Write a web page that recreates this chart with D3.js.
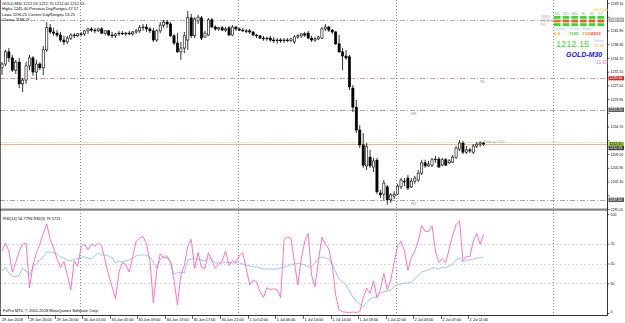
<!DOCTYPE html>
<html>
<head>
<meta charset="utf-8">
<script src="https://cdnjs.cloudflare.com/ajax/libs/d3/7.8.5/d3.min.js"></script>
<style>
  body { margin: 0; background: #fff; }
  svg { display: block; }
  text { font-family: "Liberation Sans", Arial, sans-serif; }
</style>
</head>
<body>
<script>
// GOLD M30 bars: [open, high, low, close]
var ohlc = [
 [1232.1,1233.6,1230.2,1233.1],[1233.1,1236.8,1232.6,1236.3],[1236.3,1237.3,1233.6,1234.7],[1234.7,1235.5,1231.0,1231.5],
 [1231.5,1234.2,1230.5,1233.6],[1233.6,1234.7,1226.8,1227.9],[1227.9,1229.4,1225.8,1228.9],[1228.9,1233.6,1227.9,1232.6],
 [1232.6,1235.5,1231.5,1234.7],[1234.7,1235.2,1230.0,1231.0],[1231.0,1234.2,1228.9,1233.1],[1233.1,1233.6,1231.5,1232.1],
 [1232.1,1237.8,1230.2,1236.8],[1236.8,1244.1,1236.3,1242.6],[1242.6,1243.6,1241.0,1241.5],[1241.5,1242.6,1240.5,1241.2],
 [1241.2,1242.0,1240.2,1240.7],[1240.7,1241.5,1238.9,1239.4],[1239.4,1240.5,1238.1,1238.9],[1238.9,1240.5,1238.4,1239.9],
 [1239.9,1241.2,1239.4,1240.7],[1240.7,1241.2,1239.9,1240.5],[1240.5,1241.2,1240.2,1241.0],[1241.0,1241.5,1240.5,1241.0],
 [1241.0,1242.0,1240.5,1241.8],[1241.8,1242.6,1241.0,1242.3],[1242.3,1242.8,1241.5,1242.0],[1242.0,1242.6,1241.2,1241.8],
 [1241.8,1242.6,1241.5,1242.3],[1242.3,1242.8,1241.0,1241.2],[1241.2,1242.0,1240.7,1241.8],[1241.8,1242.0,1240.5,1240.7],
 [1240.7,1241.5,1239.9,1240.5],[1240.5,1241.2,1239.9,1241.0],[1241.0,1241.8,1240.5,1241.2],[1241.2,1241.8,1240.7,1241.0],
 [1241.0,1241.5,1240.5,1241.2],[1241.2,1241.8,1240.7,1241.0],[1241.0,1241.8,1240.5,1241.5],[1241.5,1242.3,1241.0,1241.8],
 [1241.8,1243.3,1241.2,1242.6],[1242.6,1243.6,1241.8,1242.8],[1242.8,1243.6,1241.5,1242.3],[1242.3,1242.8,1241.2,1241.8],
 [1241.8,1242.6,1238.9,1239.4],[1239.4,1242.3,1238.9,1241.8],[1241.8,1244.1,1241.2,1243.3],[1243.3,1244.7,1242.6,1244.1],
 [1244.1,1244.7,1242.6,1243.6],[1243.6,1244.1,1240.2,1240.5],[1240.5,1241.0,1238.1,1238.6],[1238.6,1241.2,1236.0,1236.3],
 [1236.3,1238.9,1234.2,1237.3],[1237.3,1241.5,1236.0,1240.5],[1239.4,1247.0,1236.8,1245.2],[1245.2,1246.2,1239.9,1240.5],
 [1240.5,1245.4,1239.9,1244.9],[1244.4,1246.0,1243.6,1245.4],[1245.2,1245.7,1239.4,1239.9],[1240.2,1241.8,1239.9,1241.2],
 [1240.7,1245.2,1240.5,1244.7],[1244.7,1245.2,1242.6,1242.8],[1242.8,1243.3,1241.8,1242.3],[1242.3,1242.8,1241.8,1242.6],
 [1242.6,1243.1,1241.8,1242.0],[1242.0,1242.8,1241.5,1242.3],[1242.6,1243.1,1240.5,1240.7],[1240.7,1243.3,1240.5,1242.8],
 [1242.8,1243.1,1241.8,1242.3],[1242.3,1242.6,1241.8,1242.0],[1242.0,1242.6,1241.5,1241.8],[1241.8,1242.3,1241.2,1241.8],
 [1241.8,1242.3,1241.0,1241.5],[1241.5,1241.8,1240.5,1240.7],[1240.7,1241.0,1239.9,1240.5],[1240.5,1240.7,1239.7,1239.9],
 [1239.9,1240.5,1239.2,1239.7],[1239.7,1240.2,1239.2,1239.9],[1239.9,1240.5,1238.9,1239.4],[1239.4,1240.2,1238.6,1239.2],
 [1239.2,1239.9,1238.4,1239.4],[1239.4,1239.9,1238.6,1239.2],[1239.2,1239.9,1238.6,1239.4],[1239.4,1239.9,1238.9,1239.2],
 [1239.2,1239.9,1238.9,1239.7],[1238.9,1240.7,1238.4,1240.2],[1240.2,1241.0,1239.7,1240.5],[1240.5,1241.2,1239.9,1241.0],
 [1241.0,1241.5,1240.2,1240.7],[1241.2,1241.8,1239.7,1239.9],[1239.9,1240.5,1238.9,1239.4],[1239.4,1240.2,1238.9,1239.7],
 [1239.7,1240.5,1239.4,1240.2],[1239.9,1242.8,1239.7,1242.3],[1242.3,1243.6,1241.8,1242.8],[1242.8,1243.1,1241.5,1242.0],
 [1242.0,1242.3,1241.0,1241.5],[1241.5,1241.8,1238.1,1238.4],[1238.4,1240.7,1236.0,1236.3],[1236.3,1237.3,1231.5,1235.2],
 [1235.2,1236.8,1234.2,1234.7],[1235.0,1235.5,1226.3,1227.1],[1226.8,1227.6,1220.5,1221.8],[1221.8,1223.7,1215.0,1215.8],
 [1215.8,1217.1,1211.1,1211.9],[1211.9,1215.0,1205.9,1206.6],[1206.4,1212.4,1205.3,1211.4],[1208.7,1210.6,1205.9,1206.4],
 [1206.1,1208.5,1204.8,1207.7],[1207.9,1208.5,1199.0,1199.6],[1199.3,1200.1,1198.0,1198.8],[1199.0,1202.7,1197.5,1201.9],
 [1200.9,1201.4,1196.2,1197.5],[1197.5,1199.3,1196.7,1198.8],[1198.5,1199.8,1197.7,1199.0],[1199.0,1201.7,1198.8,1201.1],
 [1200.9,1203.2,1200.3,1202.7],[1202.2,1203.2,1201.1,1202.4],[1203.2,1204.0,1200.1,1200.6],[1200.9,1203.2,1200.6,1202.4],
 [1202.4,1203.8,1201.7,1203.2],[1202.7,1205.3,1202.2,1204.5],[1204.5,1208.0,1204.0,1207.2],[1207.2,1208.0,1205.9,1206.4],
 [1206.4,1207.7,1206.1,1206.9],[1206.6,1208.5,1206.1,1208.0],[1208.0,1209.0,1207.2,1208.2],[1208.2,1208.7,1205.9,1206.1],
 [1206.6,1208.5,1206.4,1208.0],[1208.0,1208.5,1206.4,1206.6],[1207.2,1208.2,1206.9,1207.7],[1207.4,1209.3,1207.2,1208.7],
 [1208.7,1211.6,1208.2,1211.1],[1210.8,1213.2,1210.3,1212.4],[1212.4,1212.9,1209.5,1210.0],[1210.0,1211.6,1209.5,1210.6],
 [1210.6,1211.1,1209.8,1210.3],[1210.0,1212.1,1209.5,1211.6],[1211.6,1212.7,1211.1,1212.1],[1212.1,1212.9,1211.4,1212.4],
 [1212.4,1212.7,1211.6,1212.15]
];

// RSI(3) pink, RSI(14) blue
var rsiFast = [62.7,70.6,62.7,41.2,51,62.7,69.6,70.6,25.5,48,60.8,69.6,80.4,90.2,74.5,65.7,54.9,46.1,52,38.2,
 23.5,52.9,47.1,66.7,69.6,63.7,69.6,67.6,70.6,67.6,52.9,38.2,26.5,14.5,41.2,51,49,41.2,56.9,72.5,
 75.5,77.5,69.6,52.9,10.2,43.1,59.8,55.9,55.9,51,33.3,8.1,38.2,48,67.6,74.5,45.1,60.8,46.1,45.1,
 60.8,52.9,45.1,49,52.9,62.7,48,52.9,51,57.8,60.8,45.1,28.4,33.3,31.4,21.6,15.7,25.5,23.5,24.5,
 23.5,15.7,74.5,76.5,75.5,51,28.4,54.9,72.5,80.4,38.2,26.5,52.9,76.5,69.6,64.7,48,18.2,3.1,1.2,
 0.8,0.5,0.9,0.6,1.1,15.3,25.1,19.8,32.6,15.7,23.5,40.2,23.5,33.3,51,67.6,72.5,62.7,43.1,55.9,
 62.7,72.5,88.2,82.4,82.4,88.2,62.7,51,54.9,51,64.7,78.4,89.2,93.1,52.9,56.9,56.9,72.5,80.4,69.6,79.5721];
var rsiSlow = [42.4,46.5,40.4,37.4,36.4,38.4,45.5,42.4,38.4,46.5,49.5,53.5,56.6,61.6,61.6,60.6,59.6,56.6,55.6,53.5,
 52.5,54.5,54.5,56.6,56.6,55.6,54.5,57.6,60.6,58.6,58.6,57.6,55.6,50.5,52.5,51.5,52.5,53.5,55.6,57.6,
 58.6,58.6,58.6,56.6,51.5,45.5,53.5,57.6,57.6,51.5,39.4,40.4,41.4,40.4,53.5,54.5,55.6,54.5,53.5,52.5,
 55.6,54.5,50.5,50.5,50.5,51.5,50.5,50.5,50.5,50.5,49.5,48.5,47.5,46.5,46.5,45.5,44.4,44.4,44.4,44.4,
 44.4,45.5,46.5,47.5,48.5,49.5,50.5,49.5,48.5,46.5,46.5,50.5,55.6,56.6,55.6,54.5,49.5,41.4,34.3,31.3,
 28.3,22.2,16.2,12.1,9.1,6.1,11.1,14.1,16.2,15.2,20.2,21.2,22.2,23.2,26.3,28.3,29.3,30.3,30.3,31.3,
 34.3,38.4,41.4,42.4,43.4,45.5,45.5,44.4,46.5,45.5,47.5,49.5,53.5,55.6,51.5,53.5,53.5,54.5,55.6,55.6,56.7796];

var priceTicks = [1195.10,1198.70,1202.30,1205.90,1209.50,1213.10,1216.70,1220.30,1223.90,1227.50,1231.10,1234.70,1238.30,1241.90,1245.50,1249.10];
var rsiTicks = [100,70,50,30,0];
var rsiLevels = [70,50,30];
var timeLabels = ["29 Jun 16:00","29 Jun 20:00","30 Jun 01:00","30 Jun 05:00","30 Jun 09:00","30 Jun 13:00","30 Jun 17:00","30 Jun 21:00",
 "1 Jul 02:00","1 Jul 06:00","1 Jul 10:00","1 Jul 14:00","1 Jul 18:00","1 Jul 22:00","2 Jul 03:00","2 Jul 07:00","2 Jul 11:00"];
var timeTickBars = [7.6,15.4,23.3,31.4,39.2,47.4,55.2,63.4,71.5,79.4,87.5,95.6,103.5,111.6,119.5,127.6,135.5];
var daySeparators = [22.7,68.6,114.5,160.2];
// horizontal lines on the price panel
var lineLevels = [1244.7,1229.4,1221.1,1197.5];
var lineColors = ["#a0a0a0","#e07878","#909090","#909090"];
var lineNames = ["","R1","M3","M2"];
var lineNameBars = [0,139,119,119];
var bid = 1212.15, ask = 1212.45;

var W = 625, H = 323, axisX = 607;

var svg = d3.select("body").append("svg").attr("width", W).attr("height", H);
svg.append("rect").attr("width", W).attr("height", H).attr("fill", "#fff");

var x = d3.scaleLinear().domain([0, 140]).range([2, 483.6]);
var y = d3.scaleLinear().domain([1195.10, 1249.10]).range([209, 3]);
var yr = d3.scaleLinear().domain([0, 100]).range([313, 214]);

// day separators
svg.selectAll(".sep").data(daySeparators).enter().append("line")
   .attr("x1", function(d) { return Math.round(x(d)) + 0.5; })
   .attr("x2", function(d) { return Math.round(x(d)) + 0.5; })
   .attr("y1", 0).attr("y2", 315)
   .attr("stroke", "#707070").attr("stroke-width", 0.8).attr("stroke-dasharray", "1,2");

// price level lines
svg.selectAll(".lvl").data(lineLevels).enter().append("line")
   .attr("x1", 0).attr("x2", axisX)
   .attr("y1", function(d) { return Math.round(y(d)) + 0.5; })
   .attr("y2", function(d) { return Math.round(y(d)) + 0.5; })
   .attr("stroke", function(d, i) { return lineColors[i]; })
   .attr("stroke-width", 0.8).attr("stroke-dasharray", "5,2,1,2");
svg.selectAll(".lvlname").data(lineLevels).enter().append("text")
   .attr("x", function(d, i) { return x(lineNameBars[i]); })
   .attr("y", function(d) { return y(d) + 5; })
   .attr("font-size", 3.6).attr("fill", "#909090")
   .text(function(d, i) { return lineNames[i]; });

// bid line
svg.append("line").attr("x1", 0).attr("x2", axisX)
   .attr("y1", Math.round(y(bid)) - 1.5).attr("y2", Math.round(y(bid)) - 1.5)
   .attr("stroke", "#c8e0a0").attr("stroke-width", 0.8).attr("stroke-dasharray", "2,1");
svg.append("line").attr("x1", 0).attr("x2", axisX)
   .attr("y1", Math.round(y(bid)) + 0.5).attr("y2", Math.round(y(bid)) + 0.5)
   .attr("stroke", "#f0a070").attr("stroke-width", 0.8);
svg.append("text").attr("x", x(139) + 4).attr("y", y(bid) - 1)
   .attr("font-size", 3.4).attr("fill", "#999").text("Pivot ▲ 1212");

// candles
var bw = 2.2;
var candle = svg.append("g").selectAll("g").data(ohlc).enter().append("g");
candle.append("line")
   .attr("x1", function(d, i) { return x(i); })
   .attr("x2", function(d, i) { return x(i); })
   .attr("y1", function(d) { return y(d[1]); })
   .attr("y2", function(d) { return y(d[2]); })
   .attr("stroke", "#000").attr("stroke-width", 0.8);
candle.append("rect")
   .attr("x", function(d, i) { return x(i) - bw / 2; })
   .attr("y", function(d) { return y(Math.max(d[0], d[3])); })
   .attr("width", bw)
   .attr("height", function(d) { return Math.max(0.6, Math.abs(y(d[0]) - y(d[3]))); })
   .attr("fill", function(d) { return d[3] > d[0] ? "#fff" : "#000"; })
   .attr("stroke", "#000").attr("stroke-width", 0.6);

// panel separator
svg.append("rect").attr("x", 0).attr("y", 208.5).attr("width", axisX).attr("height", 2.2).attr("fill", "#858585");

// RSI levels
svg.selectAll(".rl").data(rsiLevels).enter().append("line")
   .attr("x1", 0).attr("x2", axisX)
   .attr("y1", function(d) { return Math.round(yr(d)) + 0.5; })
   .attr("y2", function(d) { return Math.round(yr(d)) + 0.5; })
   .attr("stroke", "#c8c8c8").attr("stroke-width", 0.7).attr("stroke-dasharray", "2,2");

var line = d3.line().x(function(d, i) { return x(i); }).y(function(d) { return yr(d); });
svg.append("path").datum(rsiSlow).attr("d", line)
   .attr("fill", "none").attr("stroke", "#87c3fa").attr("stroke-width", 0.9);
svg.append("path").datum(rsiFast).attr("d", line)
   .attr("fill", "none").attr("stroke", "#ff62c0").attr("stroke-width", 0.9);

// axes frame
svg.append("line").attr("x1", axisX + 0.5).attr("x2", axisX + 0.5).attr("y1", 0).attr("y2", 315.5)
   .attr("stroke", "#000").attr("stroke-width", 0.8);
svg.append("line").attr("x1", 0).attr("x2", axisX + 0.5).attr("y1", 315.5).attr("y2", 315.5)
   .attr("stroke", "#000").attr("stroke-width", 0.8);
svg.append("line").attr("x1", 0.5).attr("x2", 0.5).attr("y1", 0).attr("y2", 315.5)
   .attr("stroke", "#000").attr("stroke-width", 0.6);

// price boxes on axis
var boxes = [
  { v: lineLevels[0], fill: "#a8a8a8", color: "#fff", dy: 0 },
  { v: lineLevels[1], fill: "#d03030", color: "#fff", dy: 0 },
  { v: lineLevels[2], fill: "#5a5a5a", color: "#fff", dy: 0 },
  { v: bid, fill: "#9acd32", color: "#000", dy: 0 },
  { v: ask, fill: "#404040", color: "#fff", dy: 5.2 },
  { v: lineLevels[3], fill: "#5a5a5a", color: "#fff", dy: 0 }
];

// price axis, labels hidden where a price box covers them
var yAxis = d3.axisRight(y).tickValues(priceTicks).tickSize(2).tickFormat(d3.format(".2f"));
var ga = svg.append("g").attr("transform", "translate(" + (axisX + 0.5) + ",0)").call(yAxis);
ga.select(".domain").remove();
ga.selectAll("text").attr("font-size", 3.5).attr("x", 3).attr("fill", "#000")
  .style("display", function(d) {
    var ty = y(d);
    return boxes.some(function(b) { return Math.abs(y(b.v) + b.dy - ty) < 4.6; }) ? "none" : null;
  });
ga.selectAll("line").attr("stroke", "#000").attr("stroke-width", 0.6);

// rsi axis
var rAxis = d3.axisRight(yr).tickValues(rsiTicks).tickSize(2);
var gr = svg.append("g").attr("transform", "translate(" + (axisX + 0.5) + ",0)").call(rAxis);
gr.select(".domain").remove();
gr.selectAll("text").attr("font-size", 3.5).attr("x", 3).attr("fill", "#000")
  .attr("dy", function(d) { return d === 0 ? "-0.1em" : "0.32em"; });
gr.selectAll("line").attr("stroke", "#000").attr("stroke-width", 0.6);

var bx = svg.selectAll(".box").data(boxes).enter().append("g");
bx.append("rect").attr("x", axisX + 1.5).attr("width", 15.5).attr("height", 4.4)
  .attr("y", function(d) { return y(d.v) - 2.2 + d.dy; })
  .attr("fill", function(d) { return d.fill; });
bx.append("text").attr("x", axisX + 2.5)
  .attr("y", function(d) { return y(d.v) + 1.3 + d.dy; })
  .attr("font-size", 3.5).attr("fill", function(d) { return d.color; })
  .text(function(d) { return d3.format(".2f")(d.v); });

// time axis
svg.selectAll(".tt").data(timeTickBars).enter().append("line")
   .attr("x1", function(d) { return Math.round(x(d)) + 0.5; })
   .attr("x2", function(d) { return Math.round(x(d)) + 0.5; })
   .attr("y1", 315.5).attr("y2", 319)
   .attr("stroke", "#000").attr("stroke-width", 0.6);
svg.selectAll(".tl").data(timeTickBars).enter().append("text")
   .attr("x", function(d) { return x(d) + 1.5; })
   .attr("y", 321)
   .attr("font-size", 3.8).attr("fill", "#000")
   .text(function(d, i) { return timeLabels[i]; });
svg.append("text").attr("x", 2).attr("y", 321).attr("font-size", 3.8).text("29 Jun 2018");

// info text
var info = ["GOLD,M30  1212.53 1212.70 1212.00 1212.15",
            "High= 1245.40  Previous DayRange= 47.57",
            "Low= 1196.25  Current DayRange= 13.25",
            "Close= 1198.27"];
svg.selectAll(".info").data(info).enter().append("text")
   .attr("x", 2).attr("y", function(d, i) { return 5 + i * 5.3; })
   .attr("font-size", 4).attr("fill", "#000").text(function(d) { return d; });
svg.append("text").attr("x", 3).attr("y", 220).attr("font-size", 4)
   .text("RSI(14) 56.7796  RSI(3) 79.5721");
svg.append("text").attr("x", 3).attr("y", 312).attr("font-size", 4)
   .text("FxPro MT4, © 2001-2018 MetaQuotes Software Corp.");

// trade info panel
var tfNames = ["M5","M15","M30","H1","H4","D1"];
var rowNames = ["TREND","SIGNAL","RSI"];
var rowColors = [
  ["#2ee02e","#2ee02e","#2ee02e","#2ee02e","#2ee02e","#2ee02e"],
  ["#ff6a30","#ff5030","#ff5030","#ff5030","#ff5030","#ff5030"],
  ["#2ee02e","#2ee02e","#2ee02e","#2ee02e","#2ee02e","#2ee02e"]
];
var px = d3.scaleBand().domain(tfNames).range([554, 604]).paddingInner(0.25);
svg.append("text").attr("x", 593).attr("y", 10.5).attr("font-size", 3.8).attr("fill", "#e8d000").text("InfoTrade");
svg.selectAll(".tf").data(tfNames).enter().append("text")
   .attr("x", function(d) { return px(d) + px.bandwidth() / 2; }).attr("y", 14.8)
   .attr("text-anchor", "middle").attr("font-size", 3).attr("fill", "#999").text(function(d) { return d; });
rowColors.forEach(function(row, r) {
  svg.selectAll(".cell" + r).data(row).enter().append("rect")
     .attr("x", function(d, i) { return px(tfNames[i]); })
     .attr("y", 16 + r * 3.6).attr("width", px.bandwidth()).attr("height", 2.8)
     .attr("fill", function(d) { return d; });
  svg.append("text").attr("x", 541).attr("y", 18.4 + r * 3.6).attr("font-size", 2.6)
     .attr("fill", "#aaa").text(rowNames[r]);
});
var statNames = ["Spread","TcOpen","Middle",""];
var statValues = ["6.0","1165","1326","2913"];
var statColors = ["#f0b000","#30d030","#f09020","#ff3030"];
var statX = [554, 569, 582, 591];
svg.selectAll(".sn").data(statNames).enter().append("text")
   .attr("x", function(d, i) { return statX[i]; }).attr("y", 29.6)
   .attr("font-size", 3.3).attr("fill", "#9cc8f0").text(function(d) { return d; });
svg.selectAll(".sv").data(statValues).enter().append("text")
   .attr("x", function(d, i) { return statX[i]; }).attr("y", 35)
   .attr("font-size", 4.4).attr("font-weight", "bold").attr("fill", function(d, i) { return statColors[i]; })
   .text(function(d) { return d; });
svg.append("text").attr("x", 556).attr("y", 47).attr("font-size", 9.2).attr("fill", "#30e030")
   .text(d3.format(".2f")(bid));
svg.append("text").attr("x", 594).attr("y", 41.5).attr("font-size", 3.3).attr("fill", "#9cc8f0").text("Broker");
svg.append("text").attr("x", 594).attr("y", 47).attr("font-size", 4).attr("fill", "#f0b000").text("12:48");
svg.append("text").attr("x", 566).attr("y", 56.5).attr("font-size", 7).attr("font-weight", "bold")
   .attr("font-style", "italic").attr("fill", "#1010ff").text("GOLD-M30");
svg.append("text").attr("x", 596).attr("y", 64).attr("font-size", 5).attr("fill", "#e080e0").text("11:50");
</script>
</body>
</html>
